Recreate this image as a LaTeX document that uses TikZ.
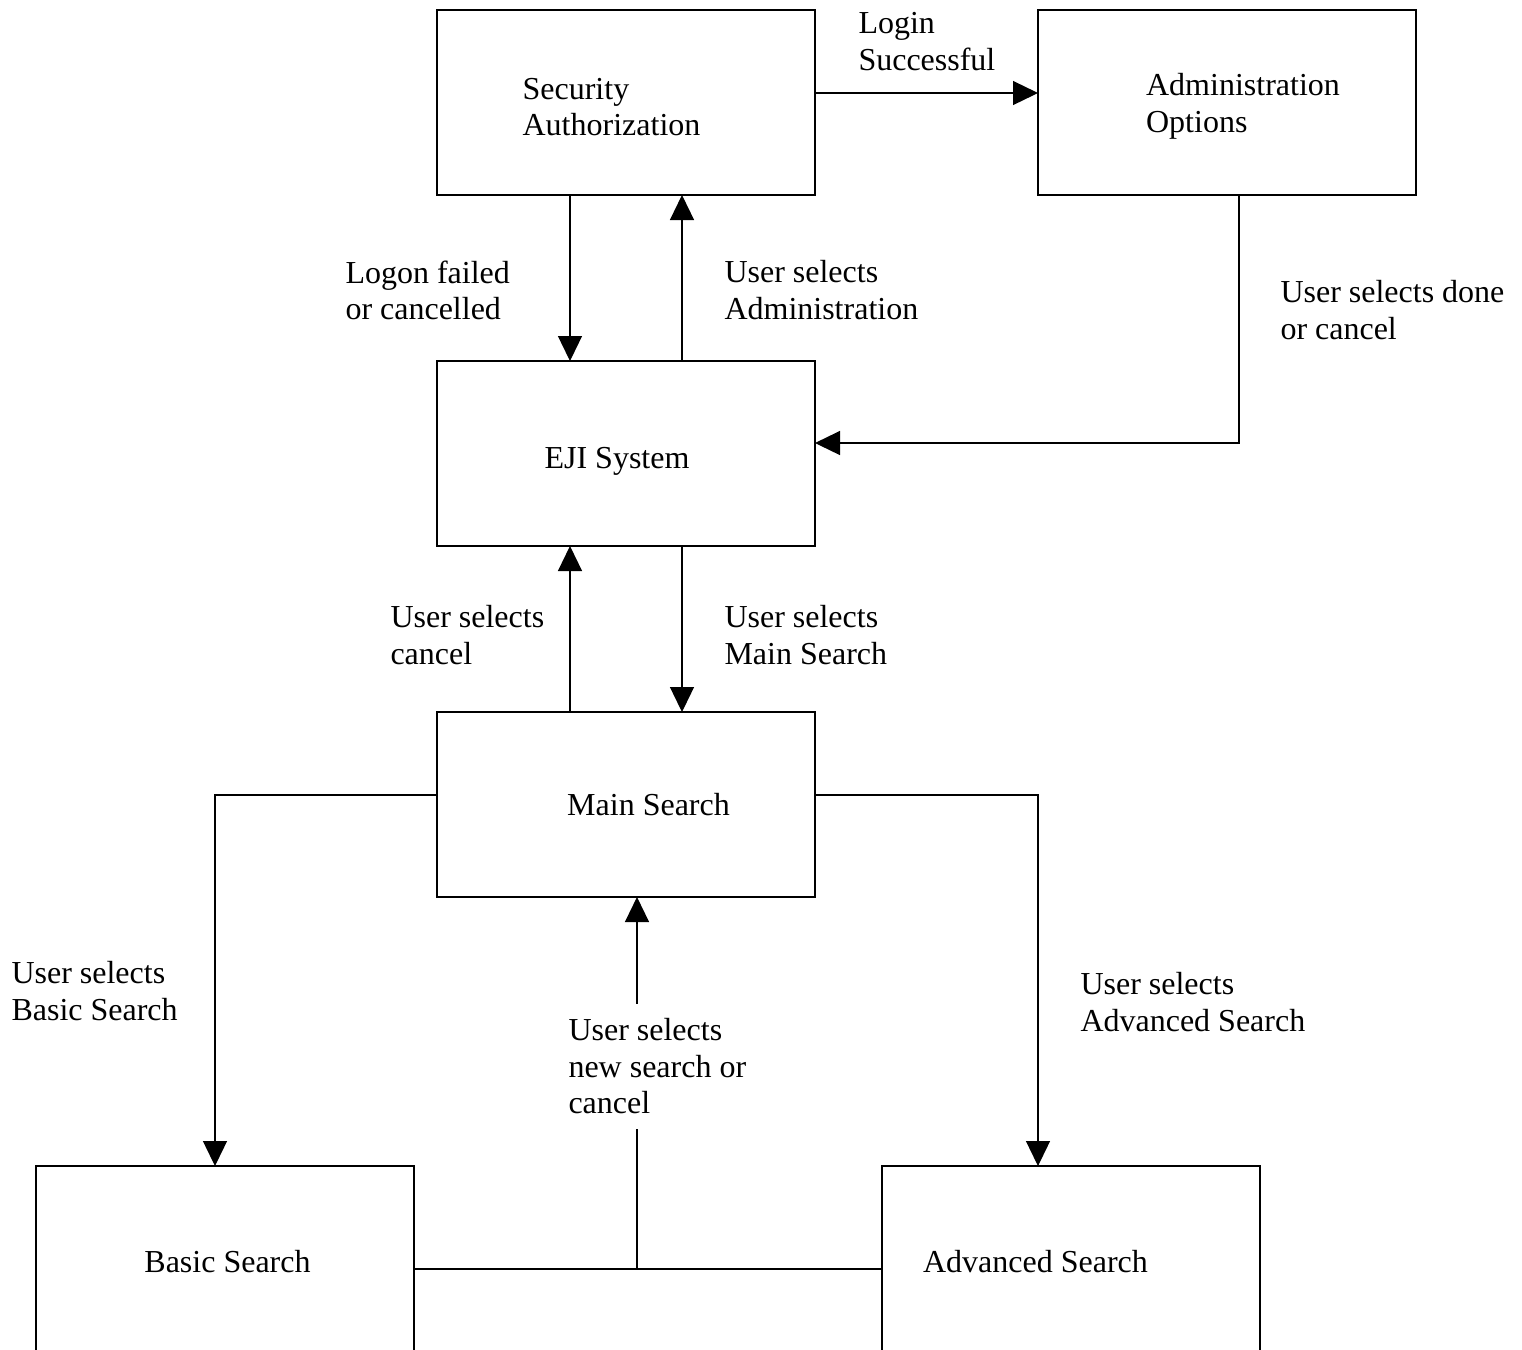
\documentclass[tikz,border=0pt]{standalone}
\usepackage{fontspec}
\setmainfont{Liberation Serif}
\usetikzlibrary{arrows.meta,positioning}

\begin{document}
\begin{tikzpicture}[x=0.4pt, y=-0.4pt, node distance=66.4pt]
\tikzset{
    mybox/.style={rectangle, draw=black, line width=0.8pt, minimum width=151.2pt, minimum height=74pt, inner sep=0pt, outer sep=0pt},
    mytext/.style={font=\fontsize{12.8}{14.6}\selectfont, align=left, inner sep=0pt},
    mylabel/.style={mytext, anchor=north west},
    myline/.style={line width=0.5pt},
    myarrow/.style={myline, -{Triangle[length=10pt, width=9.6pt]}}
}
\useasboundingbox (0,0) rectangle (1522,1349);

\node[mybox, label={[mytext, xshift=-5.8pt, yshift=-1.8pt]center:Security\\Authorization}] (security) at (626,102.5) {};
\node[mybox, right=89.2pt of security, label={[mytext, xshift=6.4pt, yshift=-1.6pt]center:Administration\\Options}] (admin) {};
\node[mybox, below=of security, label={[mytext, xshift=-3.6pt, yshift=-3pt]center:EJI System}] (eji) {};
\node[mybox, below=of eji, label={[mytext, xshift=9pt]center:Main Search}] (mainsearch) {};
\node[mybox, below=107.6pt of mainsearch, xshift=-160.2pt, label={[mytext, xshift=0.8pt, yshift=-1.4pt]center:Basic Search}] (basic) {};
\node[mybox, below=107.6pt of mainsearch, xshift=178pt, label={[mytext, xshift=-14.2pt, yshift=-1.4pt]center:Advanced Search}] (advanced) {};

\draw[myarrow] ([yshift=3.8pt]security.east) -- ([yshift=3.8pt]admin.west);
\draw[myarrow] ([xshift=-22.4pt]security.south) -- ([xshift=-22.4pt]eji.north);
\draw[myarrow] ([xshift=22.4pt]eji.north) -- ([xshift=22.4pt]security.south);
\draw[myarrow] ([xshift=4.8pt]admin.south) |- ([yshift=4.2pt]eji.east);
\draw[myarrow] ([xshift=-22.4pt]mainsearch.north) -- ([xshift=-22.4pt]eji.south);
\draw[myarrow] ([xshift=22.4pt]eji.south) -- ([xshift=22.4pt]mainsearch.north);
\draw[myarrow] ([yshift=3.8pt]mainsearch.west) -| ([xshift=-4.2pt]basic.north);
\draw[myarrow] ([yshift=3.8pt]mainsearch.east) -| ([xshift=-13.2pt]advanced.north);
% the return line joins both bottom boxes and goes up to Main Search
\coordinate (bus) at ([yshift=-4.2pt]basic.east);
\coordinate (back) at ([xshift=4.4pt]mainsearch.south);
\draw[myline] (bus) -- ([yshift=-4.2pt]advanced.west);
\draw[myarrow] (back |- bus) -- (back);

\node[mylabel] (lsuccess) at (858,12) {Login\\Successful};
\node[mylabel] (lfailed) at (345,260) {Logon failed\\or cancelled};
\node[mylabel] (ladmin) at (724,260) {User selects\\Administration};
\node[mylabel] (ldone) at (1280,280) {User selects done\\or cancel};
\node[mylabel] (lcancel) at (390,605) {User selects\\cancel};
\node[mylabel] (lmain) at (724,605) {User selects\\Main Search};
\node[mylabel] (lbasic) at (11,961) {User selects\\Basic Search};
% white fill cuts the return line behind the text
\node[mylabel, fill=white, inner ysep=6pt] (lnew) at (568,1003) {User selects\\new search or\\cancel};
\node[mylabel] (ladvanced) at (1080,972) {User selects\\Advanced Search};

\end{tikzpicture}
\end{document}
